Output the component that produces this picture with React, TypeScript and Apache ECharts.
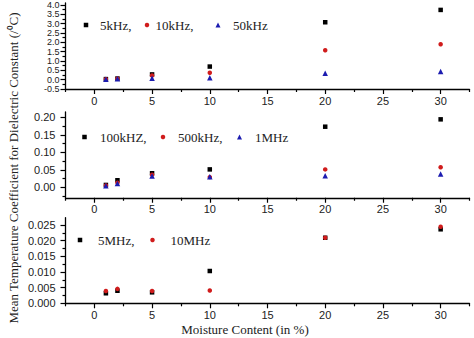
import React, { useEffect, useRef } from 'react';
import * as echarts from 'echarts';

// ---- data ----
const moisture = [1, 2, 5, 10, 20, 30];
const xMajorTicks = [0, 5, 10, 15, 20, 25, 30];
const xMinorTicks = [-2.5, 2.5, 7.5, 12.5, 17.5, 22.5, 27.5, 32.5];

// panel 1
const f5kHz = [0.03, 0.06, 0.28, 0.7, 3.07, 3.73];
const f10kHz = [0.02, 0.05, 0.22, 0.37, 1.57, 1.89];
const f50kHz = [0.02, 0.05, 0.07, 0.1, 0.34, 0.43];
const y1Major = [-0.5, 0, 0.5, 1, 1.5, 2, 2.5, 3, 3.5, 4];
const y1Minor = [-0.25, 0.25, 0.75, 1.25, 1.75, 2.25, 2.75, 3.25, 3.75];

// panel 2
const f100kHz = [0.0066, 0.02, 0.04, 0.051, 0.173, 0.194];
const f500kHz = [0.005, 0.013, 0.036, 0.029, 0.051, 0.057];
const f1MHz = [0.004, 0.011, 0.032, 0.03, 0.033, 0.038];
const y2Major = [0, 0.05, 0.1, 0.15, 0.2];
const y2Minor = [-0.025, 0.025, 0.075, 0.125, 0.175];

// panel 3
const f5MHz = [0.0032, 0.004, 0.0035, 0.0103, 0.0209, 0.0236];
const f10MHz = [0.0039, 0.0046, 0.0039, 0.0041, 0.0209, 0.0244];
const y3Major = [0, 0.005, 0.01, 0.015, 0.02, 0.025];
const y3Minor = [0.0025, 0.0075, 0.0125, 0.0175, 0.0225];

const legendLabels: Record<string, string> = {
  '5kHz': '5kHz,', '10kHz': '10kHz,', '50kHz': '50kHz',
  '100kHZ': '100kHZ,', '500kHz': '500kHz,', '1MHz': '1MHz',
  '5MHz': '5MHz,', '10MHz': '10MHz',
};

// ---- style / layout ----
const BLACK = '#000000';
const RED = '#d01c1c';
const BLUE = '#1c1cb0';
const SANS = '"Liberation Sans", Arial, sans-serif';
const SERIF = '"Liberation Serif", "Times New Roman", serif';

const grids = [
  { left: 65.5, width: 404, top: 3, height: 86 },
  { left: 65.5, width: 404, top: 112, height: 85.75 },
  { left: 65.5, width: 404, top: 217.7, height: 85.6 },
];

const yRanges = [
  { min: -0.5, max: 4.1, major: y1Major, minor: y1Minor, digits: 1, fontSize: 9, lineHeight: 9, margin: 6 },
  { min: -0.03, max: 0.215, major: y2Major, minor: y2Minor, digits: 2, fontSize: 11, lineHeight: 12, margin: 10 },
  { min: 0, max: 0.0273, major: y3Major, minor: y3Minor, digits: 3, fontSize: 11, lineHeight: 12, margin: 10 },
];

const legendLayout = [
  { name: '5kHz', cx: 86, cy: 25, gap: 14, icon: 'rect', size: 4.5 },
  { name: '10kHz', cx: 147, cy: 25, gap: 8.5, icon: 'circle', size: 4.5 },
  { name: '50kHz', cx: 218, cy: 25, gap: 15, icon: 'triangle', size: 5 },
  { name: '100kHZ', cx: 84.5, cy: 137, gap: 15.5, icon: 'rect', size: 4.5 },
  { name: '500kHz', cx: 163, cy: 137, gap: 15, icon: 'circle', size: 4.5 },
  { name: '1MHz', cx: 239.5, cy: 137, gap: 15.5, icon: 'triangle', size: 5 },
  { name: '5MHz', cx: 80, cy: 240, gap: 18, icon: 'rect', size: 4.5 },
  { name: '10MHz', cx: 152.5, cy: 240, gap: 18, icon: 'circle', size: 4.5 },
];

const seriesDefs = [
  { name: '5kHz', panel: 0, values: f5kHz, color: BLACK, symbol: 'rect', size: 4.5 },
  { name: '10kHz', panel: 0, values: f10kHz, color: RED, symbol: 'circle', size: 4.5 },
  { name: '50kHz', panel: 0, values: f50kHz, color: BLUE, symbol: 'triangle', size: 5.5 },
  { name: '100kHZ', panel: 1, values: f100kHz, color: BLACK, symbol: 'rect', size: 4.5 },
  { name: '500kHz', panel: 1, values: f500kHz, color: RED, symbol: 'circle', size: 4.5 },
  { name: '1MHz', panel: 1, values: f1MHz, color: BLUE, symbol: 'triangle', size: 5.5 },
  { name: '5MHz', panel: 2, values: f5MHz, color: BLACK, symbol: 'rect', size: 4.5 },
  { name: '10MHz', panel: 2, values: f10MHz, color: RED, symbol: 'circle', size: 4.5 },
];

function buildOption() {
  const xAxis: any[] = [];
  const yAxis: any[] = [];
  grids.forEach((_, i) => {
    xAxis.push({
      type: 'value', gridIndex: i, min: -2.5, max: 32.5, position: 'bottom',
      axisLine: { show: true, onZero: false, lineStyle: { color: BLACK, width: 1.3 } },
      axisTick: { show: true, customValues: xMajorTicks, length: 5, lineStyle: { color: BLACK, width: 1.2 } },
      axisLabel: { show: true, customValues: xMajorTicks, fontSize: 11, color: '#222', margin: 6, fontFamily: SANS },
      splitLine: { show: false },
    });
    xAxis.push({
      type: 'value', gridIndex: i, min: -2.5, max: 32.5, position: 'bottom',
      axisLine: { show: false, onZero: false },
      axisTick: { show: true, customValues: xMinorTicks, length: 3, lineStyle: { color: BLACK, width: 1.2 } },
      axisLabel: { show: false },
      splitLine: { show: false },
    });
    const r = yRanges[i];
    yAxis.push({
      type: 'value', gridIndex: i, min: r.min, max: r.max, position: 'left',
      axisLine: { show: true, onZero: false, lineStyle: { color: BLACK, width: 1.3 } },
      axisTick: { show: true, customValues: r.major, length: 5, lineStyle: { color: BLACK, width: 1.2 } },
      axisLabel: {
        show: true, customValues: r.major, fontSize: r.fontSize, lineHeight: r.lineHeight,
        color: '#222', margin: r.margin, hideOverlap: false, showMinLabel: true, showMaxLabel: true,
        fontFamily: SANS, formatter: (v: number) => v.toFixed(r.digits),
      },
      splitLine: { show: false },
    });
    yAxis.push({
      type: 'value', gridIndex: i, min: r.min, max: r.max, position: 'left',
      axisLine: { show: false, onZero: false },
      axisTick: { show: true, customValues: r.minor, length: 3, lineStyle: { color: BLACK, width: 1.2 } },
      axisLabel: { show: false },
      splitLine: { show: false },
    });
  });

  const series = seriesDefs.map((s) => ({
    name: s.name,
    type: 'scatter',
    xAxisIndex: s.panel * 2,
    yAxisIndex: s.panel * 2,
    symbol: s.symbol,
    symbolSize: s.size,
    itemStyle: { color: s.color, opacity: 1 },
    data: moisture.map((m, k) => [m, s.values[k]]),
  }));

  const legend = legendLayout.map((l) => ({
    data: [{ name: l.name, icon: l.icon }],
    left: l.cx - l.size / 2,
    top: l.cy - 7,
    padding: 0,
    itemWidth: l.size,
    itemHeight: l.size,
    selectedMode: false,
    formatter: (n: string) => legendLabels[n] ?? n,
    textStyle: {
      fontFamily: SERIF, fontSize: 13, color: '#222', lineHeight: 14,
      padding: [0, 0, 0, Math.max(0, l.gap - l.size / 2 - 5)],
    },
  }));

  return {
    animation: false,
    backgroundColor: '#ffffff',
    grid: grids.map((g) => ({ ...g, containLabel: false })),
    xAxis,
    yAxis,
    legend,
    series,
    graphic: [
      {
        type: 'text', x: 13, y: 168, rotation: Math.PI / 2,
        style: {
          text: 'Mean Temperature Coefficient for Dielectric Constant (/\u2070C)',
          fontFamily: SERIF, fontSize: 13, fill: '#222', align: 'center', verticalAlign: 'middle',
        },
      },
      {
        type: 'text', x: 245, y: 329,
        style: {
          text: 'Moisture Content (in %)',
          fontFamily: SERIF, fontSize: 13, fill: '#222', align: 'center', verticalAlign: 'middle',
        },
      },
    ],
  };
}

export default function App() {
  const ref = useRef<HTMLDivElement>(null);
  useEffect(() => {
    if (!ref.current) return;
    const chart = echarts.init(ref.current, undefined, { renderer: 'svg', width: 474, height: 338 });
    chart.setOption(buildOption() as any);
    return () => chart.dispose();
  }, []);
  return (
    <div
      ref={ref}
      style={{ position: 'fixed', left: 0, top: 0, width: 474, height: 338, background: '#fff' }}
    />
  );
}
